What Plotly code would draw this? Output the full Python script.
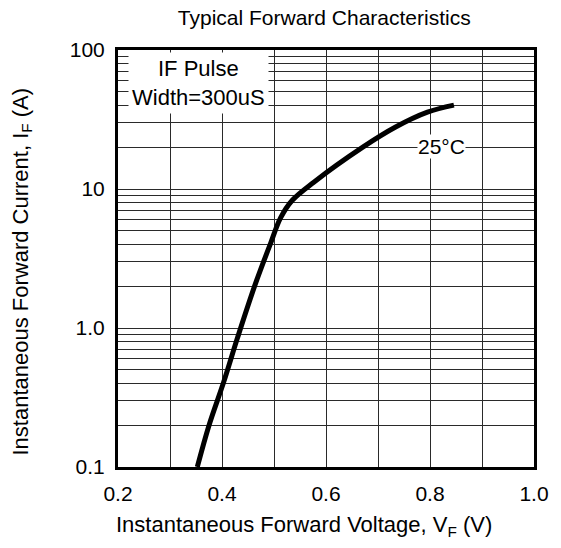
import plotly.graph_objects as go

# Curve data (25°C)
vf = [0.3525, 0.3751, 0.4034, 0.4298, 0.4637, 0.4938, 0.5126, 0.5352,
      0.5766, 0.6708, 0.7330, 0.7951, 0.8460]
i_f = [0.100, 0.20, 0.41, 0.85, 2.05, 4.1, 6.2, 8.3,
       11.2, 20.0, 27.8, 35.7, 40.1]

x_ticks = [0.2, 0.4, 0.6, 0.8, 1.0]
x_ticktext = ["0.2", "0.4", "0.6", "0.8", "1.0"]
x_grid = [0.3, 0.4, 0.5, 0.6, 0.7, 0.8, 0.9]
y_ticks = [0.1, 1, 10, 100]
y_ticktext = ["0.1", "1.0", "10", "100"]

FONT = "Arial, Liberation Sans, sans-serif"

y_minor = []
for dec in [0.1, 1, 10]:
    for k in range(2, 10):
        y_minor.append(round(dec * k, 6))

L, R, T, B = 118, 16, 50, 81
PW = 561 - L - R
PH = 548 - T - B

fig = go.Figure()
fig.add_trace(go.Scatter(x=vf, y=i_f, mode="lines",
                         line=dict(color="black", width=5, shape="spline", smoothing=1.0),
                         showlegend=False, hoverinfo="skip"))

fig.update_layout(
    width=561, height=548,
    margin=dict(l=L, r=R, t=T, b=B),
    paper_bgcolor="white", plot_bgcolor="white",
    font=dict(family=FONT, color="black", size=21),
    title=dict(text="Typical Forward Characteristics", x=0.578, xref="container",
               xanchor="center", y=0.968, yref="container", yanchor="middle",
               font=dict(size=21)),
)
fig.update_xaxes(range=[0.2, 1.0], tickvals=x_ticks, ticktext=x_ticktext,
                 showgrid=False, zeroline=False,
                 showline=True, linecolor="black", linewidth=3, mirror=True,
                 ticks="", ticklabelstandoff=6,
                 minor=dict(tickvals=x_grid, showgrid=True, gridcolor="#2a2a2a", gridwidth=1, ticks=""))
fig.update_yaxes(type="log", range=[-1, 2], tickvals=y_ticks, ticktext=y_ticktext,
                 showgrid=True, gridcolor="#2a2a2a", gridwidth=1, zeroline=False,
                 showline=True, linecolor="black", linewidth=3, mirror=True,
                 ticks="", ticklabelstandoff=6,
                 minor=dict(tickvals=y_minor, showgrid=True, gridcolor="#2a2a2a", gridwidth=1, ticks=""))

# axis titles
fig.add_annotation(x=(309 - L) / PW, y=1 - (526 - T) / PH,
                   xref="paper", yref="paper", xanchor="center", yanchor="middle",
                   text="Instantaneous Forward Voltage, V<sub>F</sub> (V)",
                   showarrow=False, font=dict(size=22))
fig.add_annotation(x=(19 - L) / PW, y=1 - (272 - T) / PH,
                   xref="paper", yref="paper", xanchor="center", yanchor="middle",
                   text="Instantaneous Forward Current, I<sub>F</sub> (A)",
                   showarrow=False, textangle=-90, font=dict(size=22))

fig.add_annotation(x=0.193, y=0.922, xref="paper", yref="paper",
                   text="IF Pulse<br>Width=300uS", showarrow=False,
                   font=dict(size=22), bgcolor="white", borderpad=3,
                   xanchor="center", yanchor="middle")
fig.add_annotation(x=0.823, y=1.308, xref="x", yref="y",
                   text="25°C", showarrow=False, font=dict(size=21),
                   bgcolor="white", borderpad=0)

fig.write_html("out.html", config={"displayModeBar": False},
               post_script="document.body.style.margin='0';")
